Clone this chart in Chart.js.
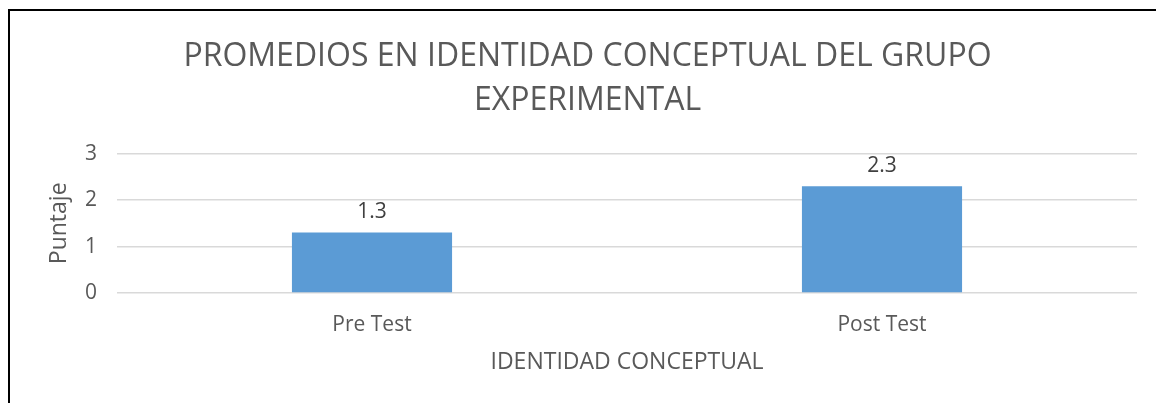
<!DOCTYPE html>
<html lang="es">
<head>
    <meta charset="UTF-8">
    <title>Promedios en identidad conceptual</title>
    <script src="https://cdn.jsdelivr.net/npm/chart.js"></script>
    <style>
        body {
            margin: 0;
            background: #fff;
            width: 1156px;
            height: 403px;
            overflow: hidden;
            font-family: "Open Sans", sans-serif;
        }
        #frame {
            position: absolute;
            left: 8px;
            top: 9px;
            width: 1200px;
            height: 450px;
            border-left: 2px solid #000;
            border-top: 2px solid #000;
        }
        canvas {
            position: absolute;
            left: 0;
            top: 0;
        }
    </style>
</head>
<body>
    <div id="frame"></div>
    <canvas id="myChart" width="1156" height="403"></canvas>

    <script>
        const categories = ['Pre Test', 'Post Test'];
        const puntajes = [1.3, 2.3];
        const titleLines = ['PROMEDIOS EN IDENTIDAD CONCEPTUAL DEL GRUPO', 'EXPERIMENTAL'];
        const xTitle = 'IDENTIDAD CONCEPTUAL';
        const yTitle = 'Puntaje';

        // small plugin to write the value above each bar
        const barValues = {
            id: 'barValues',
            afterDatasetsDraw(chart) {
                const ctx = chart.ctx;
                ctx.save();
                ctx.font = '21px "Open Sans"';
                ctx.fillStyle = '#404040';
                ctx.textAlign = 'center';
                ctx.textBaseline = 'bottom';
                chart.getDatasetMeta(0).data.forEach((bar, i) => {
                    ctx.fillText(chart.data.datasets[0].data[i].toFixed(1), bar.x, bar.y - 10);
                });
                ctx.restore();
            }
        };

        const ctx = document.getElementById('myChart').getContext('2d');
        new Chart(ctx, {
            type: 'bar',
            data: {
                labels: categories,
                datasets: [{
                    label: yTitle,
                    data: puntajes,
                    backgroundColor: '#5b9bd5',
                    borderWidth: 0,
                    categoryPercentage: 1,
                    barPercentage: 0.314
                }]
            },
            options: {
                responsive: false,
                animation: false,
                layout: {
                    padding: { left: 38, right: 19, top: 0, bottom: 0 }
                },
                plugins: {
                    legend: { display: false },
                    tooltip: { enabled: false },
                    title: {
                        display: true,
                        text: titleLines,
                        color: '#595959',
                        font: { family: '"Open Sans"', size: 32, weight: 'normal', lineHeight: 1.4 },
                        padding: { top: 34, bottom: 30 }
                    }
                },
                scales: {
                    x: {
                        grid: { display: false, drawTicks: false },
                        border: { display: false },
                        ticks: {
                            color: '#595959',
                            font: { family: '"Open Sans"', size: 21 },
                            padding: 19
                        },
                        title: {
                            display: true,
                            text: xTitle,
                            color: '#595959',
                            font: { family: '"Open Sans"', size: 23, lineHeight: 1.2 },
                            padding: { top: 0, bottom: 27 }
                        },
                        afterFit(scale) { scale.height = 110; }
                    },
                    y: {
                        min: 0,
                        max: 3,
                        ticks: {
                            stepSize: 1,
                            color: '#595959',
                            font: { family: '"Open Sans"', size: 21 },
                            padding: 20
                        },
                        grid: { color: '#d9d9d9', lineWidth: 1.5, drawTicks: false },
                        border: { display: false },
                        title: {
                            display: true,
                            text: yTitle,
                            color: '#595959',
                            font: { family: '"Open Sans"', size: 23, lineHeight: 1.2 },
                            padding: { top: 8, bottom: 10 }
                        },
                        afterFit(scale) { scale.width = 79; }
                    }
                }
            },
            plugins: [barValues]
        });
    </script>
</body>
</html>
